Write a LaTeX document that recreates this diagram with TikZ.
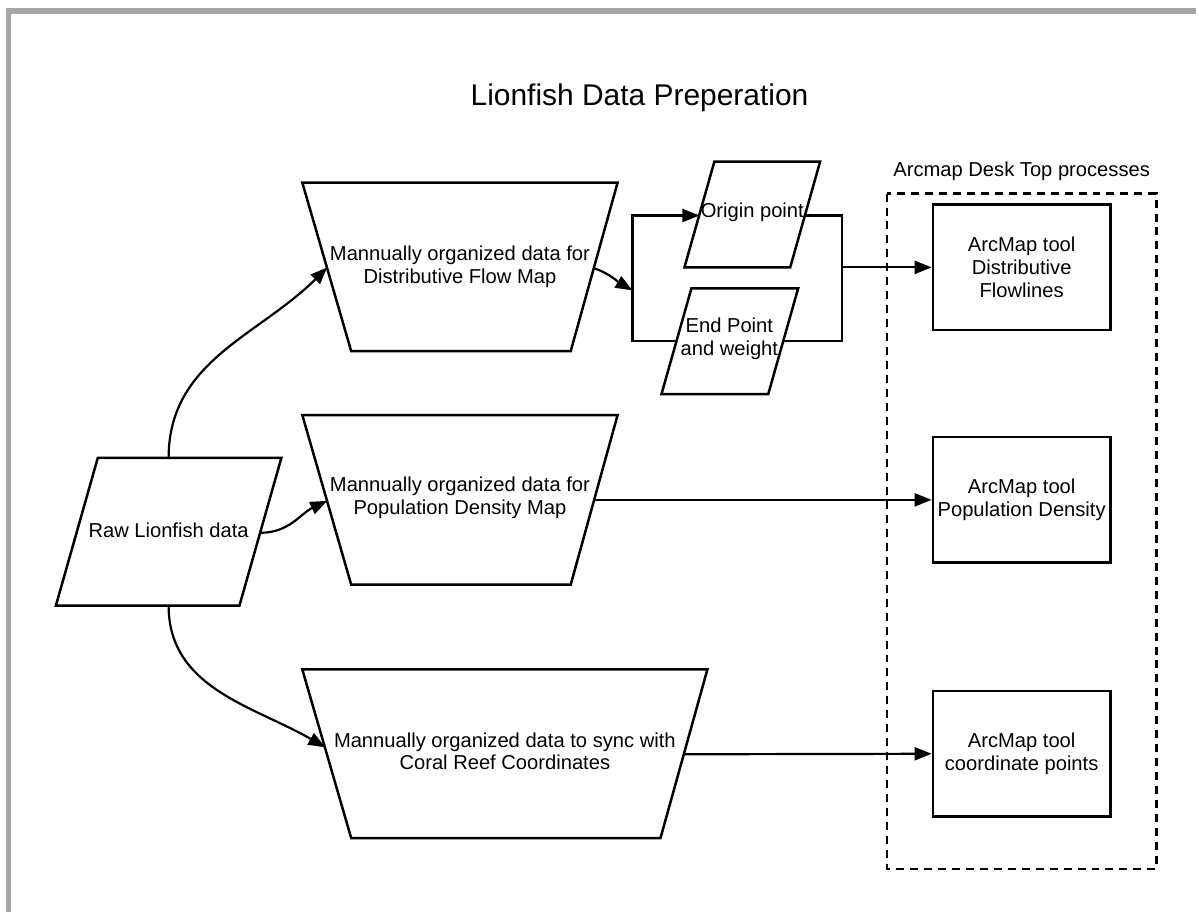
\documentclass[tikz,border=0pt]{standalone}
\usepackage{fontspec}
\setmainfont{Liberation Sans}
\usetikzlibrary{arrows.meta}
\definecolor{framegray}{HTML}{A6A6A6}
\tikzset{shapeline/.style={line width=2.5pt, line join=miter},
    conn/.style={line width=2.2pt},
    arr/.style={conn, -{Triangle[length=17pt, width=13pt]}},
    txt/.style={font=\fontsize{20.2}{23}\selectfont, align=center},
    toolbox/.style={draw, line width=2.5pt, minimum width=178pt, minimum height=126pt, inner sep=0pt, txt}}

\begin{document}
\begin{tikzpicture}[x=1pt, y=-1pt]
            \fill[white] (0,0) rectangle (1199,914);
            \draw[framegray, line width=5.5pt] (8.5,914) -- (8.5,11) -- (1199,11);
            \node[font=\fontsize{30}{36}\selectfont] (title) at (641,98) {Lionfish Data Preperation};
            % input data
            \draw[shapeline] (98,459) -- (282,459) -- (240,607) -- (56,607) -- cycle;
            \node[txt] (raw) at (169,531) {Raw Lionfish data};
            \coordinate (raw-n) at (169,459);
            \coordinate (raw-e) at (261,534);
            \coordinate (raw-s) at (169,607);
            % manually organized data
            \draw[shapeline] (303,183) -- (619,183) -- (572,352) -- (352,352) -- cycle;
            \node[txt] (dflow) at (461,267) {Mannually organized data for\\Distributive Flow Map};
            \coordinate (dflow-w) at (328,268);
            \coordinate (dflow-e) at (596,269);
            \draw[shapeline] (303,416) -- (619,416) -- (572,586) -- (352,586) -- cycle;
            \node[txt] (pdens) at (461,499) {Mannually organized data for\\Population Density Map};
            \coordinate (pdens-w) at (328,502);
            \coordinate (pdens-e) at (595,501);
            \draw[shapeline] (303,671) -- (709,671) -- (662,840) -- (352,840) -- cycle;
            \node[txt] (coral) at (506,753) {Mannually organized data to sync with\\Coral Reef Coordinates};
            \coordinate (coral-w) at (326,749);
            \coordinate (coral-e) at (685,756);
            % flow map inputs
            \draw[shapeline] (716,162) -- (822,162) -- (792,268) -- (686,268) -- cycle;
            \node[txt] (origin) at (754,213) {Origin point};
            \coordinate (origin-w) at (701,216);
            \coordinate (origin-e) at (807,216);
            \draw[shapeline] (693,289) -- (800,289) -- (770,395) -- (663,395) -- cycle;
            \node[txt] (endpt) at (731,340) {End Point\\and weight};
            \coordinate (endpt-w) at (678,342);
            \coordinate (endpt-e) at (785,342);
            \coordinate (fork) at (634,291);
            \coordinate (join) at (844,268);
            % arcmap
            \draw[line width=2.5pt, dash pattern=on 8pt off 6pt] (889,194) rectangle (1159,871);
            \node[txt] (desk) at (1024,172) {Arcmap Desk Top processes};
            \node[toolbox] (flow) at (1024,268) {ArcMap tool\\Distributive\\Flowlines};
            \node[toolbox] (pop) at (1024,501) {ArcMap tool\\Population Density};
            \node[toolbox] (pts) at (1024,755.5) {ArcMap tool\\coordinate points};
            % connectors
            \draw[arr] (raw-n) to[out=90, in=-135] (dflow-w);
            \draw[arr] (raw-e) to[out=0, in=-155] (pdens-w);
            \draw[arr] (raw-s) to[out=-90, in=150] (coral-w);
            \draw[arr] (dflow-e) to[out=-20, in=150] (fork);
            \draw[arr] (fork) |- (origin-w);
            \draw[conn] (fork) |- (endpt-w);
            \draw[conn] (origin-e) -| (join);
            \draw[conn] (endpt-e) -| (join);
            \draw[arr] (join) -- (flow.west);
            \draw[arr] (pdens-e) -- (pop.west);
            \draw[arr] (coral-e) -- (pts.west);
        \end{tikzpicture}
\end{document}
